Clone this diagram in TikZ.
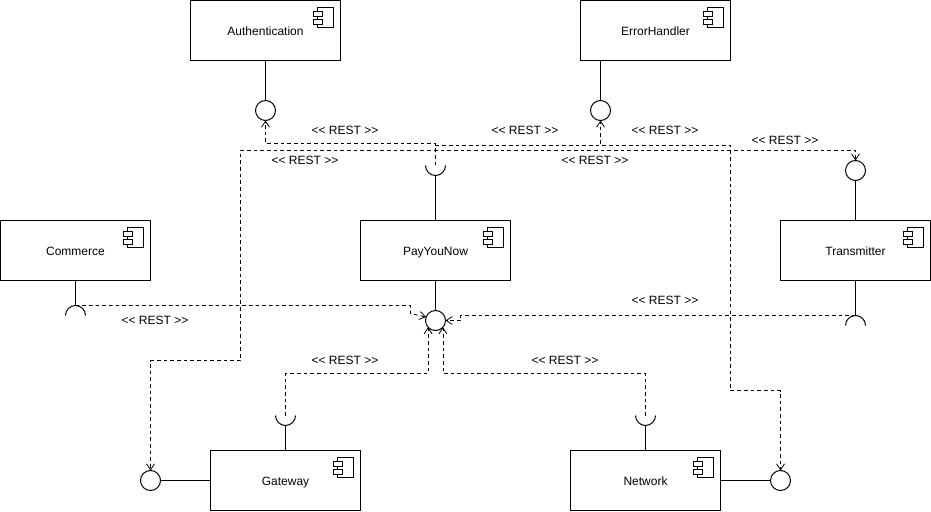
\documentclass[tikz,border=0pt]{standalone}
\usepackage{fontspec}
\setmainfont{Liberation Sans}
\usetikzlibrary{arrows.meta,positioning,calc}
\newcommand{\resttext}{<{}< REST >{}>}

\begin{document}
\begin{tikzpicture}[
  x=0.75pt, y=0.75pt,
  line width=0.75pt,
  box/.style={rectangle, draw, outer sep=0pt, minimum width=112.5pt, minimum height=45pt, align=center, text height=8pt, text depth=0pt, font=\fontsize{9}{11}\selectfont},
  ball/.style={circle, draw, inner sep=0pt, outer sep=0pt, minimum size=15pt},
  rest/.style={font=\fontsize{9}{11}\selectfont, inner sep=0pt},
  link/.style={dash pattern=on 2.75pt off 2.25pt, line width=0.6pt, -{Straight Barb[length=4.5pt,width=6pt,line width=0.6pt]}},
  compicon/.pic={
    \draw (-22.7,-7) rectangle (-6.7,-27);
    \draw[fill=white] (-26.7,-11.3) rectangle (-18.3,-15.7);
    \draw[fill=white] (-26.7,-19.3) rectangle (-18.3,-23.7);
  }
]
\useasboundingbox (0,0) rectangle (931,511);

% components
\node[box] (pay) at (435.5,260.5) {PayYouNow};
\node[box, left=157.5pt of pay] (commerce) {Commerce};
\node[box, right=202.5pt of pay] (transmitter) {Transmitter};
\node[box, above=120pt of pay, xshift=-127.5pt] (auth) {Authentication};
\node[box, above=120pt of pay, xshift=165pt] (error) {ErrorHandler};
\node[box, below=127.5pt of pay, xshift=-112.5pt] (gateway) {Gateway};
\node[box, below=127.5pt of pay, xshift=157.5pt] (network) {Network};

\path (pay.north east) pic {compicon};
\path (commerce.north east) pic {compicon};
\path (transmitter.north east) pic {compicon};
\path (auth.north east) pic {compicon};
\path (error.north east) pic {compicon};
\path (gateway.north east) pic {compicon};
\path (network.north east) pic {compicon};

% provided interfaces
\node[ball, below=30pt of auth] (authball) {};
\node[ball, below=30pt of error, xshift=-41.25pt] (errorball) {};
\node[ball, above=30pt of transmitter] (transball) {};
\node[ball, below=22.5pt of pay] (payball) {};
\node[ball, left=37.5pt of gateway] (gateball) {};
\node[ball, right=37.5pt of network] (netball) {};

\draw (auth) -- (authball);
\draw (errorball |- error.south) -- (errorball);
\draw (transmitter) -- (transball);
\draw (pay) -- (payball);
\draw (gateway) -- (gateball);
\draw (network) -- (netball);

% required interfaces
\coordinate[above=41.25pt of pay] (paysock);
\coordinate[below=18.75pt of commerce] (commercesock);
\coordinate[below=26.25pt of transmitter] (transsock);
\coordinate[above=26.25pt of gateway] (gatesock);
\coordinate[above=26.25pt of network] (netsock);

\draw (pay) -- ($(paysock)+(0,-10)$);
\draw (commerce) -- (commercesock);
\draw (transmitter) -- (transsock);
\draw (gateway) -- ($(gatesock)+(0,-10)$);
\draw (network) -- ($(netsock)+(0,-10)$);

\draw (paysock) ++(-10,0) arc[start angle=180, end angle=360, radius=10];
\draw (gatesock) ++(-10,0) arc[start angle=180, end angle=360, radius=10];
\draw (netsock) ++(-10,0) arc[start angle=180, end angle=360, radius=10];
\draw (commercesock) ++(-10,-10) arc[start angle=180, end angle=0, radius=10];
\draw (transsock) ++(-10,-10) arc[start angle=180, end angle=0, radius=10];

% connectors
\draw[link] (paysock) -- ++(0,22) -| (authball.south);
\draw[link] (paysock) -- ++(0,20) -| (errorball.south);
\draw[link] (paysock) -- ++(0,20) -- ++(295,0) -- ++(0,-245) -| (netball.north);
\draw[link] (paysock) -- ++(0,15) -- ++(-195,0) -- ++(0,-210) -| (gateball.north);
\draw[link] (paysock) -- ++(0,15) -| (transball.north);
\draw[link] (commercesock) -- ++(335,0) -- ++(0,-8) -- (payball.160);
\draw[link] (transsock) -- ++(-395,0) -- ++(0,-5) -- (payball.east);
\draw[link] (gatesock) -- ++(0,42) -| (payball.222);
\draw[link] (netsock) -- ++(0,42) -| (payball.318);

% labels
\node[rest] (restauth) at (345,381) {\resttext};
\node[rest] (resterror) at (525,381) {\resttext};
\node[rest] (restnet) at (665,381) {\resttext};
\node[rest] (resttrans) at (785,371) {\resttext};
\node[rest] (restgate) at (305,351) {\resttext};
\node[rest] (restmid) at (595,351) {\resttext};
\node[rest] (restcommerce) at (155,191) {\resttext};
\node[rest] (restout) at (665,211) {\resttext};
\node[rest] (restgatein) at (345,151) {\resttext};
\node[rest] (restnetin) at (565,151) {\resttext};

\end{tikzpicture}
\end{document}
